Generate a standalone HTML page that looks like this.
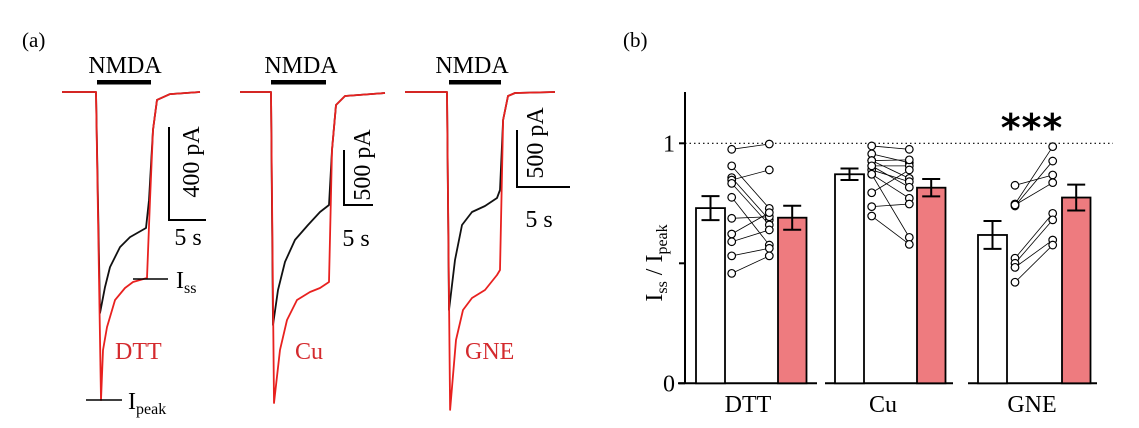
<!DOCTYPE html>
<html><head><meta charset="utf-8"><style>
html,body{margin:0;padding:0;background:#fff;}
svg{display:block;font-family:"Liberation Serif",serif;}
</style></head><body>
<svg id="fig" width="1139" height="428" viewBox="0 0 1139 428" xmlns="http://www.w3.org/2000/svg" style="position:absolute;left:0;top:0">
<text x="22" y="47" font-size="21">(a)</text>
<text x="623" y="47" font-size="21">(b)</text>
<g id="pa"></g>
<g font-family="Liberation Serif, serif" fill="#000">
<text x="125" y="73" font-size="24" text-anchor="middle">NMDA</text>
<rect x="97" y="80" width="54" height="4.5"/>
<text x="301" y="73" font-size="24" text-anchor="middle">NMDA</text>
<rect x="271" y="80" width="55" height="4.5"/>
<text x="472" y="73" font-size="24" text-anchor="middle">NMDA</text>
<rect x="449" y="80" width="52" height="4.5"/>
<path d="M169 127V220H206" fill="none" stroke="#000" stroke-width="2"/>
<text transform="translate(199,162) rotate(-90)" font-size="24" text-anchor="middle">400 pA</text>
<text x="188" y="245" font-size="24" text-anchor="middle">5 s</text>
<path d="M344 150V205H373" fill="none" stroke="#000" stroke-width="2"/>
<text transform="translate(370,165) rotate(-90)" font-size="24" text-anchor="middle">500 pA</text>
<text x="356" y="246" font-size="24" text-anchor="middle">5 s</text>
<path d="M517 130V187H570" fill="none" stroke="#000" stroke-width="2"/>
<text transform="translate(543,143) rotate(-90)" font-size="24" text-anchor="middle">500 pA</text>
<text x="539" y="227" font-size="24" text-anchor="middle">5 s</text>
<line x1="133" y1="279" x2="168" y2="279" stroke="#000" stroke-width="1.5"/>
<text x="176" y="288" font-size="24">I<tspan font-size="16" dy="5">ss</tspan></text>
<line x1="86" y1="400" x2="122" y2="400" stroke="#000" stroke-width="1.5"/>
<text x="128" y="409" font-size="24">I<tspan font-size="16" dy="5">peak</tspan></text>
<text x="115" y="359" font-size="24" fill="#d42a2e">DTT</text>
<text x="295" y="359" font-size="24" fill="#d42a2e">Cu</text>
<text x="465" y="359" font-size="24" fill="#d42a2e">GNE</text>
</g>
<g id="pb"></g>
</svg>
<script>
// ---------- Panel (a) trace data (time in s, current in pA) ----------
const dttBlackT = [0,4.59,5.14,5.81,6.49,7.84,9.19,11.35,11.76,12.3,12.84,14.59,18.65];
const dttBlackI = [0,0,-951,-839,-753,-667,-624,-585,-465,-163,-34,-9,0];
const dttRedT = [0,4.59,5.27,5.54,6.08,7.16,8.51,9.59,11.49,11.89,12.3,12.84,14.59,18.65];
const dttRedI = [0,0,-1325,-1110,-1011,-895,-843,-817,-800,-465,-163,-34,-9,0];
const cuBlackT = [0,5.54,5.89,6.79,8.04,9.82,12.14,14.29,15.89,16.43,17.14,18.75,25.9];
const cuBlackI = [0,0,-2118,-1800,-1545,-1345,-1209,-1091,-1027,-527,-118,-36,-9];
const cuRedT = [0,5.54,6.07,7.14,8.39,10.18,12.5,14.29,15.89,16.43,17.14,18.75,25.9];
const cuRedI = [0,0,-2827,-2345,-2073,-1891,-1818,-1782,-1727,-527,-118,-36,-9];
const gneBlackT = [0,3.96,4.15,4.72,5.38,6.32,7.55,8.68,8.96,9.25,9.72,10.38,14.15];
const gneBlackI = [0,0,-1912,-1474,-1167,-1053,-1000,-930,-860,-246,-35,-9,0];
const gneRedT = [0,3.96,4.25,4.81,5.47,6.32,7.55,8.68,8.96,9.25,9.72,10.38,14.15];
const gneRedI = [0,0,-2789,-2175,-1912,-1807,-1737,-1605,-1561,-246,-35,-9,0];

// ---------- Panel (b) data ----------
const groups = ["DTT","Cu","GNE"];
const ctrlMean = [0.73,0.871,0.618];
const ctrlErr = [0.05,0.024,0.058];
const treatMean = [0.69,0.815,0.774];
const treatErr = [0.05,0.036,0.054];
const dttBefore = [0.975,0.906,0.857,0.847,0.833,0.775,0.6875,0.622,0.590,0.531,0.458];
const dttAfter  = [0.997,0.729,0.681,0.889,0.660,0.576,0.694,0.711,0.639,0.5625,0.531];
const cuBefore = [0.989,0.956,0.928,0.906,0.889,0.871,0.871,0.794,0.736,0.697,0.928,0.906];
const cuAfter  = [0.975,0.919,0.854,0.906,0.840,0.771,0.608,0.889,0.747,0.579,0.931,0.817];
const gneBefore = [0.825,0.747,0.739,0.743,0.521,0.5,0.483,0.421];
const gneAfter  = [0.868,0.986,0.926,0.836,0.708,0.681,0.597,0.576];
const yTicks = [0,0.5,1];
const yTickLabels = ["0","","1"];

const NS="http://www.w3.org/2000/svg";
function mk(tag,attrs,parent){const e=document.createElementNS(NS,tag);for(const k in attrs)e.setAttribute(k,attrs[k]);parent.appendChild(e);return e;}
const pa=document.getElementById('pa');
const g=document.getElementById('pb');

const panels=[
 {name:'dtt',x0:62,y0:92,pxs:7.4,pxa:0.2325,bT:dttBlackT,bI:dttBlackI,rT:dttRedT,rI:dttRedI},
 {name:'cu',x0:240,y0:92,pxs:5.6,pxa:0.11,bT:cuBlackT,bI:cuBlackI,rT:cuRedT,rI:cuRedI},
 {name:'gne',x0:405,y0:92,pxs:10.6,pxa:0.114,bT:gneBlackT,bI:gneBlackI,rT:gneRedT,rI:gneRedI}
];
panels.forEach(p=>{
  const f=(T,I)=>T.map((t,i)=>(p.x0+t*p.pxs).toFixed(1)+','+(p.y0-I[i]*p.pxa).toFixed(1)).join(' ');
  const b=mk('polyline',{points:f(p.bT,p.bI),fill:'none',stroke:'#111','stroke-width':1.8,'stroke-linejoin':'round'},pa);
  
  
  const r=mk('polyline',{points:f(p.rT,p.rI),fill:'none',stroke:'#e8211f','stroke-width':1.8,'stroke-linejoin':'round'},pa);
  
  
});

const y0=383.3, yPer=240, axX=685;
const Y=v=>y0-v*yPer;
const dl=mk('line',{x1:axX,y1:Y(1),x2:1113,y2:Y(1),stroke:'#000','stroke-width':1.2,'stroke-dasharray':'1.5,3'},g);


const ax=mk('line',{x1:axX,y1:92,x2:axX,y2:y0,stroke:'#000','stroke-width':2},g);


yTicks.forEach((t,i)=>{
  const tk=mk('line',{x1:axX-6,y1:Y(t),x2:axX,y2:Y(t),stroke:'#000','stroke-width':2},g);
  
  
  if(yTickLabels[i]){
    const tl=mk('text',{x:axX-10,y:Y(t)+8,'font-size':24,'text-anchor':'end','font-family':'Liberation Serif, serif'},g);
    tl.textContent=yTickLabels[i];
    
    
  }
});
const yl=mk('text',{transform:'translate(662,263) rotate(-90)','font-size':24,'text-anchor':'middle','font-family':'Liberation Serif, serif'},g);
yl.innerHTML='I<tspan font-size="16" dy="5">ss</tspan><tspan dy="-5"> / I</tspan><tspan font-size="16" dy="5">peak</tspan>';


const gx=[678,825,968], gw=[139,128,129];
const befores=[dttBefore,cuBefore,gneBefore], afters=[dttAfter,cuAfter,gneAfter];
groups.forEach((name,i)=>{
  const x=gx[i];
  const seg=mk('line',{x1:x,y1:y0,x2:x+gw[i],y2:y0,stroke:'#000','stroke-width':2},g);
  
  
  const lab=mk('text',{x:[748,883,1032][i],y:412,'font-size':24,'text-anchor':'middle','font-family':'Liberation Serif, serif'},g);
  lab.textContent=name;
  
  
  const cx=[696,835,978][i], tx=[778,917,1062][i];
  const b1=mk('rect',{x:cx,y:Y(ctrlMean[i]),width:29,height:y0-Y(ctrlMean[i]),fill:'#fff',stroke:'#000','stroke-width':1.8},g);
  
  
  const b2=mk('rect',{x:tx,y:Y(treatMean[i]),width:28.5,height:y0-Y(treatMean[i]),fill:'#ee7b7f',stroke:'#000','stroke-width':1.8},g);
  
  
  [[cx+14.5,ctrlMean[i],ctrlErr[i],'control'],[tx+14.2,treatMean[i],treatErr[i],'treated']].forEach(e=>{
    const p=mk('path',{d:`M${e[0]-9} ${Y(e[1]+e[2])}H${e[0]+9}M${e[0]} ${Y(e[1]+e[2])}V${Y(e[1]-e[2])}M${e[0]-9} ${Y(e[1]-e[2])}H${e[0]+9}`,fill:'none',stroke:'#000','stroke-width':2},g);
    
    
  });
  const lx=[731.7,871.7,1015][i], rx=[769.3,909.3,1052.7][i];
  befores[i].forEach((v,j)=>{
    const l=mk('line',{x1:lx,y1:Y(v),x2:rx,y2:Y(afters[i][j]),stroke:'#000','stroke-width':0.8},g);
    
    
  });
  befores[i].forEach((v,j)=>{
    [[lx,v],[rx,afters[i][j]]].forEach(pt=>{
      const c=mk('circle',{cx:pt[0],cy:Y(pt[1]),r:3.8,fill:'#fff',stroke:'#000','stroke-width':1.2},g);
      
      
    });
  });
});
const st=mk('text',{x:1032,y:141,'font-size':38,'text-anchor':'middle','font-family':'DejaVu Sans, sans-serif','font-weight':'bold','letter-spacing':'1'},g);
st.textContent='***';


</script>
</body></html>
